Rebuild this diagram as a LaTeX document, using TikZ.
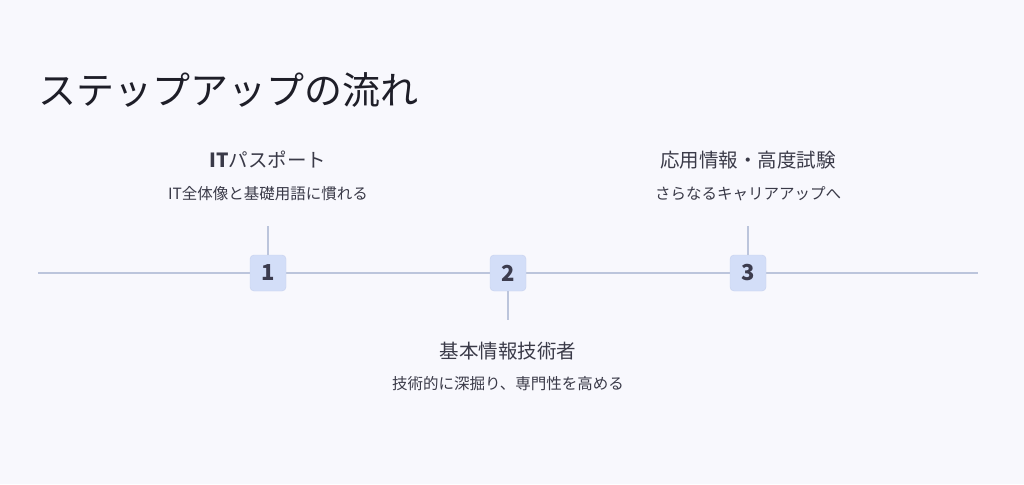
\documentclass[tikz,border=0pt]{standalone}
\usepackage{fontspec}
\setmainfont{Noto Sans CJK JP}
\usetikzlibrary{positioning}
\definecolor{bgcol}{HTML}{F8F8FD}
\definecolor{linecol}{HTML}{BCC5DC}
\definecolor{boxcol}{HTML}{D3DEF8}
\definecolor{boxline}{HTML}{C6D1EE}
\definecolor{txtcol}{HTML}{3A3A48}
\definecolor{numcol}{HTML}{3C3C4E}
\definecolor{titlecol}{HTML}{1E1E28}
\tikzset{
x=1pt, y=-1pt,
numbox/.style={draw=boxline, fill=boxcol, rounded corners=4pt, minimum size=36pt, inner sep=0pt, text=numcol, font=\fontsize{22}{24}\selectfont\bfseries}, % the numbered squares
tick/.style={draw=linecol, line width=1.2pt}, % timeline and short ticks
head/.style={text=txtcol, font=\fontsize{19.5}{22}\selectfont, inner sep=0pt},
sub/.style={text=txtcol, font=\fontsize{15.5}{18}\selectfont, inner sep=0pt},
}
\begin{document}
\begin{tikzpicture}
    \useasboundingbox[fill=bgcol] (0,0) rectangle (1024,484);

    \node[anchor=west, text=titlecol, font=\fontsize{38}{42}\selectfont, inner sep=0pt] (title) at (38,90) {ステップアップの流れ};

    \coordinate (ls) at (38,273);
    \coordinate (le) at (978,273);
    \draw[tick] (ls) -- (le);

    \node[numbox] (b1) at (268,273) {1};
    \node[numbox] (b2) at (508,273) {2};
    \node[numbox] (b3) at (748,273) {3};

    \coordinate (t1) at (268,226);
    \coordinate (t2) at (508,320);
    \coordinate (t3) at (748,226);
    \draw[tick] (t1) -- (b1.north)
                (b2.south) -- (t2)
                (t3) -- (b3.north);

    \node[head] (h1) at (268,160) {\textbf{IT}パスポート};
    \node[sub] (s1) at (268,194) {IT全体像と基礎用語に慣れる};

    \node[head] (h2) at (508,351) {基本情報技術者};
    \node[sub] (s2) at (508,384) {技術的に深掘り、専門性を高める};

    \node[head] (h3) at (748,160) {応用情報・高度試験};
    \node[sub] (s3) at (748,194) {さらなるキャリアアップへ};
\end{tikzpicture}
\end{document}
